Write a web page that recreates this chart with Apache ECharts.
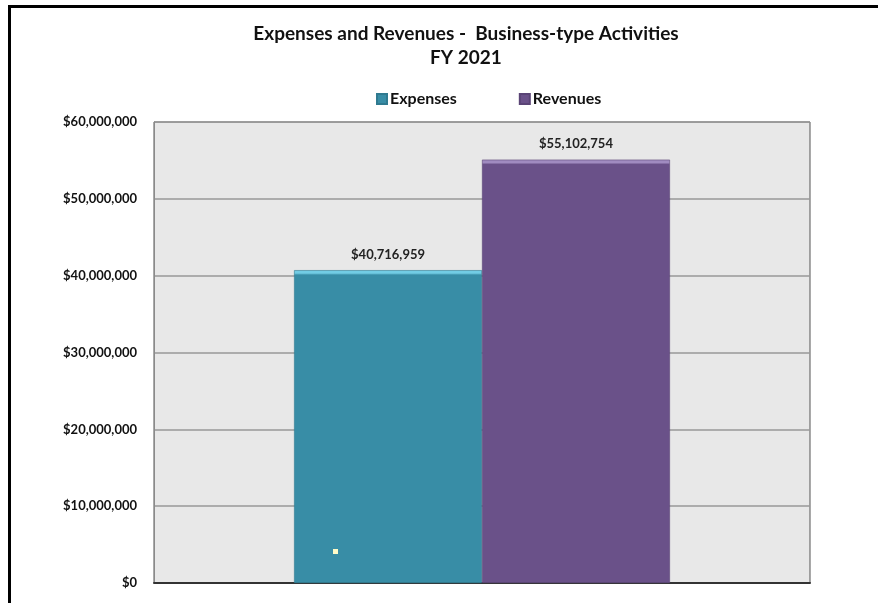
<!DOCTYPE html>
<html>
<head>
<meta charset="utf-8">
<style>
  html, body { margin: 0; padding: 0; background: #fff; }
  #chart { width: 878px; height: 603px; }
</style>
<script src="https://cdn.jsdelivr.net/npm/echarts@6/dist/echarts.min.js"></script>
</head>
<body>
<div id="chart"></div>
<script>
// Fiscal year 2021 totals for business-type activities
const categories = ['FY 2021'];
const seriesNames = ['Expenses', 'Revenues'];
const expenses = [40716959];
const revenues = [55102754];
const yTicks = [0, 10000000, 20000000, 30000000, 40000000, 50000000, 60000000];
const titleLines = ['Expenses and Revenues -  Business-type Activities', 'FY 2021'];

const FONT = 'Lato, "Open Sans", sans-serif';
const money = v => '$' + Math.round(v).toLocaleString('en-US');

const chart = echarts.init(document.getElementById('chart'), null, { renderer: 'canvas' });

// base colours, plus a lighter tone used for the bevelled top edge
const palette = {
  Expenses: { base: '#388DA6', light: '#72CCE4', dark: '#2F7A90' },
  Revenues: { base: '#6A5189', light: '#A08BC0', dark: '#5A4476' }
};

function bevel(name, topFrac) {
  const p = palette[name];
  return new echarts.graphic.LinearGradient(0, 0, 0, 1, [
    { offset: 0, color: p.light },
    { offset: topFrac, color: p.light },
    { offset: topFrac * 1.6, color: p.base },
    { offset: 1, color: p.base }
  ]);
}

function makeSeries(name, values, topFrac) {
  return {
    name: name,
    type: 'bar',
    data: values,
    barGap: '0%',
    barCategoryGap: '42.7%',
    itemStyle: { color: bevel(name, topFrac), borderColor: palette[name].dark, borderWidth: 0.6 },
    label: {
      show: true,
      position: 'top',
      distance: 9,
      formatter: p => money(p.value),
      fontFamily: FONT,
      fontWeight: 'bold',
      fontSize: 13,
      color: '#222'
    }
  };
}

const option = {
  animation: false,
  backgroundColor: '#fff',
  grid: {
    left: 154, right: 68, top: 122, bottom: 20,
    show: true,
    backgroundColor: '#E8E8E8',
    borderColor: '#555',
    borderWidth: 1
  },
  legend: {
    data: seriesNames,
    left: 371,
    top: 86,
    itemWidth: 10,
    itemHeight: 10,
    itemGap: 62,
    icon: 'rect',
    textStyle: { fontFamily: FONT, fontWeight: 'bold', fontSize: 16, color: '#111', padding: [0, 0, 0, -2] }
  },
  xAxis: {
    type: 'category',
    data: categories,
    axisLine: { show: true, lineStyle: { color: '#333', width: 2 } },
    axisTick: { show: false },
    axisLabel: { show: false }
  },
  yAxis: {
    type: 'value',
    min: yTicks[0],
    max: yTicks[yTicks.length - 1],
    interval: yTicks[1] - yTicks[0],
    axisLine: { show: true, lineStyle: { color: '#8a8a8a', width: 1 } },
    axisTick: { show: false },
    splitLine: { show: true, lineStyle: { color: '#999', width: 1.5 } },
    axisLabel: {
      margin: 17,
      formatter: v => money(v),
      fontFamily: FONT,
      fontWeight: 'bold',
      fontSize: 13,
      color: '#111'
    }
  },
  graphic: [
    // frame around the whole chart
    { type: 'line', shape: { x1: 9.5, y1: 5, x2: 9.5, y2: 603 }, style: { stroke: '#000', lineWidth: 3 } },
    { type: 'line', shape: { x1: 8, y1: 6.5, x2: 878, y2: 6.5 }, style: { stroke: '#000', lineWidth: 3 } },
    // two-line heading
    { type: 'text', x: 466, y: 34, style: { text: titleLines[0], textAlign: 'center', textVerticalAlign: 'middle', fontFamily: FONT, fontWeight: 'bold', fontSize: 19, fill: '#111' } },
    { type: 'text', x: 466, y: 58, style: { text: titleLines[1], textAlign: 'center', textVerticalAlign: 'middle', fontFamily: FONT, fontWeight: 'bold', fontSize: 19, fill: '#111' } },
    // small highlight speck on the expenses bar
    { type: 'rect', shape: { x: 333, y: 549, width: 5, height: 5 }, style: { fill: '#FFFBC8' }, z: 100 }
  ],
  series: [
    makeSeries('Expenses', expenses, 0.01),
    makeSeries('Revenues', revenues, 0.007)
  ]
};

chart.setOption(option);

// size the bevel from the rendered bar heights (about 3px of light edge)
const zeroY = chart.convertToPixel({ yAxisIndex: 0 }, 0);
const edgePx = 3;
chart.setOption({
  series: [
    { itemStyle: { color: bevel('Expenses', edgePx / (zeroY - chart.convertToPixel({ yAxisIndex: 0 }, expenses[0]))) } },
    { itemStyle: { color: bevel('Revenues', edgePx / (zeroY - chart.convertToPixel({ yAxisIndex: 0 }, revenues[0]))) } }
  ]
});
</script>
</body>
</html>
